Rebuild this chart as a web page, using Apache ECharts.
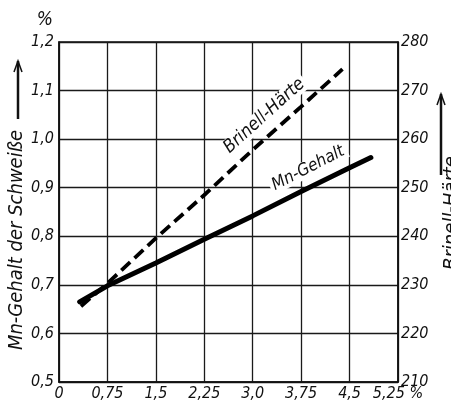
<!DOCTYPE html>
<html>
<head>
<meta charset="utf-8">
<script src="https://cdn.jsdelivr.net/npm/echarts@6/dist/echarts.min.js"></script>
<style>
html,body{margin:0;padding:0;background:#fff;}
#c{width:451px;height:402px;}
</style>
</head>
<body>
<div id="c"></div>
<script>
// Tick labels
var xTickLabels = ['0', '0,75', '1,5', '2,25', '3,0', '3,75', '4,5', '5,25 %'];
var leftTickLabels = ['0,5', '0,6', '0,7', '0,8', '0,9', '1,0', '1,1', '1,2'];
var rightTickLabels = ['210', '220', '230', '240', '250', '260', '270', '280'];

// Series: Mn-Gehalt (left axis, %), x = Mn in electrode coating (%)
var mnX = [0.32, 0.75, 1.5, 2.25, 3.0, 3.75, 4.5, 4.83];
var mnY = [0.665, 0.698, 0.745, 0.794, 0.842, 0.892, 0.941, 0.962];
// Series: Brinell-Härte (right axis)
var hbX = [0.34, 0.75, 1.5, 2.25, 3.0, 3.75, 4.39];
var hbY = [225.6, 230.3, 239.6, 248.5, 257.8, 266.7, 274.4];

var FONT = '"Liberation Sans Narrow", "DejaVu Sans Condensed", "DejaVu Sans", sans-serif';

function pairs(xs, ys) { return xs.map(function (x, i) { return [x, ys[i]]; }); }

var chart = echarts.init(document.getElementById('c'), null, {renderer: 'canvas'});
var lblStyle = {color: '#111', fontFamily: FONT, fontStyle: 'italic', fontSize: 16};

chart.setOption({
  animation: false,
  backgroundColor: '#fff',
  grid: {left: 59, right: 53, top: 42, bottom: 20, show: true, borderColor: '#111', borderWidth: 1.5, backgroundColor: 'transparent'},
  xAxis: {
    type: 'value', min: 0, max: 5.25, interval: 0.75,
    axisLine: {show: true, lineStyle: {color: '#111', width: 1.5}},
    axisTick: {show: false},
    splitLine: {show: true, lineStyle: {color: '#1a1a1a', width: 1.3}},
    axisLabel: Object.assign({margin: 4, formatter: function (v) { return xTickLabels[Math.round(v / 0.75)]; }}, lblStyle)
  },
  yAxis: [{
    type: 'value', min: 0.5, max: 1.2, interval: 0.1, position: 'left',
    name: '%', nameLocation: 'end', nameGap: 12,
    nameTextStyle: {color: '#111', fontFamily: FONT, fontStyle: 'italic', fontSize: 19, align: 'right', padding: [0, 6, 0, 0]},
    axisLine: {show: true, lineStyle: {color: '#111', width: 1.5}},
    axisTick: {show: false},
    splitLine: {show: true, lineStyle: {color: '#1a1a1a', width: 1.3}},
    axisLabel: Object.assign({margin: 5, formatter: function (v) { return leftTickLabels[Math.round((v - 0.5) / 0.1)]; }}, lblStyle)
  }, {
    type: 'value', min: 210, max: 280, interval: 10, position: 'right',
    axisLine: {show: true, lineStyle: {color: '#111', width: 1.5}},
    axisTick: {show: false},
    splitLine: {show: false},
    axisLabel: Object.assign({margin: 3, formatter: function (v) { return rightTickLabels[Math.round((v - 210) / 10)]; }}, lblStyle)
  }],
  series: [{
    name: 'Mn-Gehalt', type: 'line', yAxisIndex: 0, showSymbol: false, symbol: 'none',
    data: pairs(mnX, mnY),
    lineStyle: {color: '#000', width: 5, cap: 'round'},
    markPoint: {
      symbol: 'rect', symbolSize: 0,
      data: [{coord: [3.86, 0.94]}],
      label: {show: true, position: 'inside', formatter: 'Mn-Gehalt', rotate: 27, color: '#111', fontFamily: FONT, fontStyle: 'italic', fontSize: 17, backgroundColor: '#fff', padding: [0, 3]}
    },
    z: 3
  }, {
    name: 'Brinell-Härte', type: 'line', yAxisIndex: 1, showSymbol: false, symbol: 'none',
    data: pairs(hbX, hbY),
    lineStyle: {color: '#000', width: 3.8, type: [12, 6]},
    markPoint: {
      symbol: 'rect', symbolSize: 0,
      data: [{coord: [3.18, 264.8]}],
      label: {show: true, position: 'inside', formatter: 'Brinell-Härte', rotate: 42, color: '#111', fontFamily: FONT, fontStyle: 'italic', fontSize: 18, backgroundColor: '#fff', padding: [0, 3]}
    },
    z: 3
  }],
  graphic: [
    {type: 'text', x: 17, y: 240, rotation: Math.PI / 2,
     style: {text: 'Mn-Gehalt der Schweiße', fill: '#111', font: 'italic 20px ' + FONT, textAlign: 'center', textVerticalAlign: 'middle'}},
    {type: 'line', shape: {x1: 18, y1: 119, x2: 18, y2: 61}, style: {stroke: '#111', lineWidth: 2.5}},
    {type: 'polyline', shape: {points: [[14, 72], [18, 61], [22, 72]]}, style: {stroke: '#111', lineWidth: 1.5, fill: null}},
    {type: 'text', x: 452, y: 213, rotation: Math.PI / 2,
     style: {text: 'Brinell-Härte', fill: '#111', font: 'italic 20px ' + FONT, textAlign: 'center', textVerticalAlign: 'middle'}},
    {type: 'line', shape: {x1: 441, y1: 175, x2: 441, y2: 94}, style: {stroke: '#111', lineWidth: 2.5}},
    {type: 'polyline', shape: {points: [[437, 105], [441, 94], [445, 105]]}, style: {stroke: '#111', lineWidth: 1.5, fill: null}}
  ]
});
</script>
</body>
</html>
